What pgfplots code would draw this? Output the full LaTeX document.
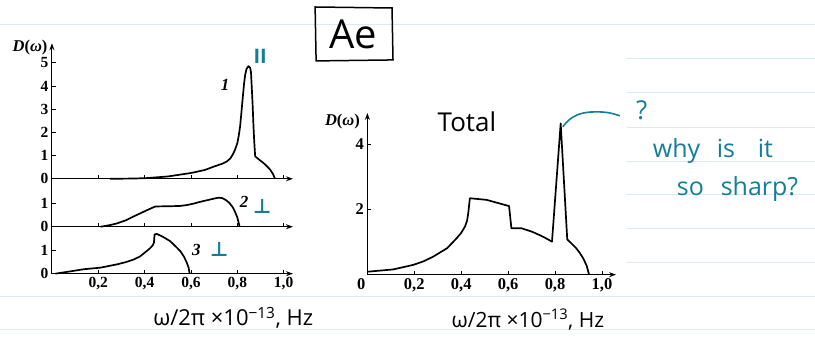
\documentclass[border=0pt]{standalone}
\usepackage{fontspec}
\setmainfont{Liberation Serif}
\newfontfamily\hand{Open Sans}
\newfontfamily\sym{DejaVu Sans}
\usepackage{pgfplots}
\pgfplotsset{compat=1.18}
\usetikzlibrary{arrows.meta}
\definecolor{tealpen}{HTML}{137F96}
\definecolor{ruleblue}{HTML}{D8EAF4}

\pgfplotstableread{
x y
0.25 0.00
0.35 0.01
0.41 0.03
0.50 0.10
0.60 0.25
0.66 0.38
0.70 0.53
0.735 0.65
0.755 0.75
0.77 0.88
0.78 1.04
0.79 1.25
0.80 1.54
0.806 1.85
0.812 2.26
0.818 2.90
0.824 3.56
0.829 4.10
0.834 4.50
0.840 4.75
0.848 4.86
0.855 4.80
0.859 4.60
0.862 4.00
0.866 3.20
0.870 2.20
0.873 1.60
0.877 0.97
0.895 0.82
0.913 0.68
0.930 0.52
0.942 0.39
0.953 0.22
0.963 0.00
}\curveone

\pgfplotstableread{
x y
0.21 0.00
0.25 0.07
0.28 0.14
0.32 0.28
0.35 0.43
0.38 0.57
0.41 0.71
0.43 0.80
0.446 0.87
0.50 0.88
0.55 0.89
0.582 0.93
0.61 0.99
0.64 1.07
0.67 1.14
0.70 1.21
0.72 1.25
0.735 1.23
0.75 1.15
0.765 1.03
0.78 0.84
0.79 0.64
0.80 0.40
0.81 0.00
}\curvetwo

\pgfplotstableread{
x y
0.015 0.00
0.08 0.10
0.137 0.19
0.21 0.26
0.28 0.40
0.32 0.50
0.353 0.61
0.38 0.74
0.396 0.87
0.41 0.98
0.425 1.11
0.435 1.22
0.44 1.33
0.443 1.69
0.453 1.71
0.48 1.58
0.51 1.40
0.535 1.16
0.554 0.97
0.57 0.73
0.582 0.47
0.59 0.25
0.594 0.00
}\curvethree

\pgfplotstableread{
x y
0.00 0.09
0.11 0.16
0.196 0.30
0.24 0.41
0.28 0.55
0.34 0.81
0.38 1.11
0.40 1.28
0.416 1.47
0.425 1.65
0.43 1.88
0.437 2.34
0.508 2.29
0.604 2.10
0.614 1.42
0.657 1.42
0.70 1.32
0.735 1.21
0.765 1.10
0.787 1.01
0.824 4.63
0.852 1.08
0.875 0.92
0.89 0.81
0.905 0.67
0.92 0.50
0.935 0.27
0.945 0.00
}\curvetotal

\pgfplotsset{
  panel/.style={
    scale only axis,
    axis lines=left,
    axis line style={line width=1.1pt, -{Stealth[length=7pt,width=5pt]}},
    tick style={black, line width=0.9pt},
    major tick length=4pt,
    tick align=inside,
    enlargelimits=false,
    clip=false,
    tick label style={font=\bfseries\fontsize{15.5}{17}\selectfont},
  },
  curve/.style={black, line width=1.7pt, line join=round, mark=none},
}

\begin{document}
\begin{tikzpicture}[x=1pt,y=1pt]
\fill[white] (0,0) rectangle (815,341);
% notebook ruling
\foreach \py in {25,297,330} \draw[ruleblue, line width=1pt] (0,{341-\py}) -- (815,{341-\py});
\foreach \py in {59,93,128,162,195,229,263} \draw[ruleblue, line width=1pt] (627,{341-\py}) -- (815,{341-\py});

% ---------- left: top panel ----------
\begin{axis}[panel,
  at={(51.5pt,162pt)}, anchor=south west,
  width=241.3pt, height=135.7pt,
  xmin=0, xmax=1.04, ymin=0, ymax=5.85,
  xtick={0.2,0.4,0.6,0.8,1.0}, xticklabels={},
  ytick={0,1,2,3,4,5}, yticklabels={0,1,2,3,4,5},
]
\addplot[curve] table {\curveone};
\node[anchor=east, font=\bfseries\fontsize{16.5}{18}\selectfont] at (rel axis cs:0,1) [xshift=-1pt,yshift=-4pt] {\itshape D\upshape(\itshape ω\upshape)};
\end{axis}

% ---------- left: middle panel ----------
\begin{axis}[panel,
  at={(51.5pt,114pt)}, anchor=south west,
  width=241.3pt, height=48pt,
  xmin=0, xmax=1.04, ymin=0, ymax=2.06,
  y axis line style={-},
  xtick={0.2,0.4,0.6,0.8,1.0}, xticklabels={},
  ytick={0,1}, yticklabels={0,1},
]
\addplot[curve] table {\curvetwo};
\end{axis}

% ---------- left: bottom panel ----------
\begin{axis}[panel,
  at={(51.5pt,67pt)}, anchor=south west,
  width=241.3pt, height=47pt,
  xmin=0, xmax=1.04, ymin=0, ymax=2.02,
  y axis line style={-},
  xtick={0.2,0.4,0.6,0.8,1.0}, xticklabels={{0,2},{0,4},{0,6},{0,8},{1,0}},
  ytick={0,1}, yticklabels={0,1},
]
\addplot[curve] table {\curvethree};
\end{axis}

% ---------- right: total ----------
\begin{axis}[panel,
  at={(367.3pt,66pt)}, anchor=south west,
  width=249pt, height=161.9pt,
  xmin=0, xmax=1.06, ymin=0, ymax=4.95,
  tick label style={font=\bfseries\fontsize{16.5}{18}\selectfont},
  xtick={0,0.2,0.4,0.6,0.8,1.0}, xticklabels={{\llap{0\hspace{2pt}}},{0,2},{0,4},{0,6},{0,8},{1,0}},
  ytick={2,4}, yticklabels={2,4},
]
\addplot[curve] table {\curvetotal};
\node[anchor=north east, font=\bfseries\fontsize{16.5}{18}\selectfont] at (rel axis cs:0,1) [xshift=-4pt,yshift=2pt] {\itshape D\upshape(\itshape ω\upshape)};
\end{axis}

% curve labels
\node[font=\bfseries\itshape\fontsize{17}{19}\selectfont] at (225,{341-85}) {1};
\node[font=\bfseries\itshape\fontsize{17}{19}\selectfont] at (244,{341-202}) {2};
\node[font=\bfseries\itshape\fontsize{17}{19}\selectfont] at (196,{341-250}) {3};

% handwritten annotations
\node[tealpen, font=\hand\bfseries\fontsize{20}{22}\selectfont] at (260,{341-56}) {II};
\node[tealpen, font=\sym\bfseries\fontsize{20}{22}\selectfont] at (262,{341-207}) {⊥};
\node[tealpen, font=\sym\bfseries\fontsize{20}{22}\selectfont] at (219,{341-250}) {⊥};

\draw[line width=1.5pt] (315,334) -- (392,333) -- (393,281) -- (316,280) -- cycle;
\node[font=\hand\fontsize{40}{44}\selectfont] at (353,{341-34}) {Ae};

\node[font=\hand\fontsize{26}{28}\selectfont] at (467,{341-122}) {Total};

\draw[tealpen, line width=1.6pt] (563,214) to[out=55,in=180] (596,229) to[out=0,in=160] (620,225);
\node[tealpen, font=\hand\fontsize{26}{28}\selectfont] at (642,{341-110}) {?};
\begin{scope}[tealpen, font=\hand\fontsize{25}{27}\selectfont]
\node[anchor=base west, inner sep=0pt] at (653,{341-158}) {why};
\node[anchor=base west, inner sep=0pt] at (717,{341-158}) {is};
\node[anchor=base west, inner sep=0pt] at (758,{341-158}) {it};
\node[anchor=base west, inner sep=0pt] at (677,{341-196}) {so};
\node[anchor=base west, inner sep=0pt] at (721,{341-196}) {sharp?};
\end{scope}

\node[font=\hand\fontsize{22}{24}\selectfont] at (233,{341-318}) {ω/2π ×10\textsuperscript{−13}, Hz};
\node[font=\hand\fontsize{21}{23}\selectfont] at (528,{341-320}) {ω/2π ×10\textsuperscript{−13}, Hz};
\end{tikzpicture}
\end{document}
